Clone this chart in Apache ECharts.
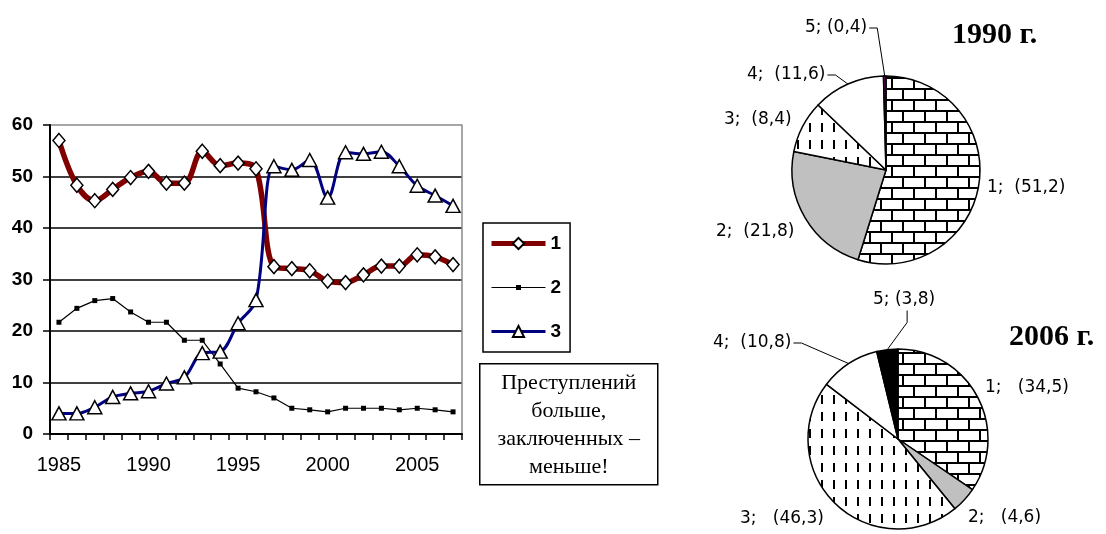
<!DOCTYPE html>
<html>
<head>
<meta charset="utf-8">
<script src="https://cdn.jsdelivr.net/npm/echarts@6/dist/echarts.min.js"></script>
<style>
  html, body { margin: 0; padding: 0; background: #fff; }
  #chart { width: 1106px; height: 534px; }
</style>
</head>
<body>
<div id="chart"></div>
<script>
// ---- data ----
const years = ['1985','1986','1987','1988','1989','1990','1991','1992','1993','1994','1995','1996',
               '1997','1998','1999','2000','2001','2002','2003','2004','2005','2006','2007'];
const series1 = [57.0, 48.3, 45.3, 47.5, 49.8, 51.0, 48.7, 48.7, 54.9, 52.1, 52.6, 51.5,
                 32.5, 32.1, 31.7, 29.7, 29.4, 30.9, 32.6, 32.6, 34.8, 34.4, 32.9];
const series2 = [21.7, 24.4, 25.9, 26.3, 23.7, 21.7, 21.7, 18.2, 18.2, 13.6, 8.9, 8.2,
                 7.0, 5.0, 4.7, 4.3, 5.0, 5.0, 5.0, 4.7, 5.0, 4.7, 4.3];
const series3 = [4.0, 4.0, 5.2, 7.2, 7.9, 8.3, 9.8, 11.0, 15.7, 16.0, 21.5, 26.0,
                 52.0, 51.3, 53.2, 45.9, 54.7, 54.4, 54.8, 52.0, 48.2, 46.3, 44.3];
const seriesNames = ['1', '2', '3'];
const yTicks = [0, 10, 20, 30, 40, 50, 60];

const pieNames = ['1', '2', '3', '4', '5'];
const pie1990 = [51.2, 21.8, 8.4, 11.6, 0.4];
const pie2006 = [34.5, 4.6, 46.3, 10.8, 3.8];
const pieTitles = ['1990 г.', '2006 г.'];
const boxLines = ['Преступлений', 'больше,', 'заключенных –', 'меньше!'];

// ---- patterns ----
function brickPattern() {
  const c = document.createElement('canvas');
  c.width = 22; c.height = 22;
  const g = c.getContext('2d');
  g.fillStyle = '#fff'; g.fillRect(0, 0, 22, 22);
  g.fillStyle = '#000';
  g.fillRect(0, 0, 22, 2);
  g.fillRect(0, 11, 22, 2);
  g.fillRect(0, 0, 2, 11);
  g.fillRect(11, 11, 2, 11);
  return c;
}
function dashPattern() {
  const c = document.createElement('canvas');
  c.width = 12; c.height = 17;
  const g = c.getContext('2d');
  g.fillStyle = '#fff'; g.fillRect(0, 0, 12, 17);
  g.fillStyle = '#000';
  g.fillRect(5, 4, 2, 9);
  return c;
}
const brick = { image: brickPattern(), repeat: 'repeat' };
const dashes = { image: dashPattern(), repeat: 'repeat' };
const pieFills1990 = [brick, '#c0c0c0', dashes, '#ffffff', '#6a0a6a'];
const pieFills2006 = [brick, '#c0c0c0', dashes, '#ffffff', '#000000'];

function fmtNum(v) { return String(v.toFixed(1)).replace('.', ','); }

function pieData(values, fills, guided) {
  return values.map((v, i) => ({
    name: pieNames[i],
    value: v,
    itemStyle: { color: fills[i] },
    labelLine: { show: guided.indexOf(i) >= 0 }
  }));
}

function makeLayout(pos, guides) {
  return function (p) {
    const i = p.dataIndex;
    const x = pos[i][0], y = pos[i][1];
    const out = { x: x, y: y, align: 'left', verticalAlign: 'middle' };
    const g = guides[i];
    if (g && p.labelLinePoints) {
      const edge = p.labelLinePoints[0];
      const w = p.labelRect.width, h = p.labelRect.height;
      let end, elbow;
      if (g === 'right') {
        end = [x + w + 2, y];
        elbow = [x + w + 10, y];
      } else {
        end = [x + w / 2 + 3, y + h / 2 + 2];
        elbow = [x + w / 2 + 3, y + h / 2 + 14];
      }
      out.labelLinePoints = [edge, elbow, end];
    }
    return out;
  };
}

const labelPos1990 = [[987, 188], [716, 232], [724, 120], [747, 75], [805, 28]];
const labelPos2006 = [[985, 388], [968, 518], [740, 519], [713, 343], [873, 300]];
const gap1990 = ['  ', '  ', '  ', '  ', ' '];
const gap2006 = ['   ', '   ', '   ', '  ', ' '];

function pieLabel(gaps) {
  return function (p) { return p.name + ';' + gaps[p.dataIndex] + '(' + fmtNum(p.value) + ')'; };
}

const pieLabelStyle = {
  show: true, position: 'outside', color: '#000',
  fontFamily: 'DejaVu Sans', fontSize: 17
};

const chart = echarts.init(document.getElementById('chart'), null, { renderer: 'canvas' });
chart.setOption({
  animation: false,
  backgroundColor: '#fff',
  title: [
    { text: pieTitles[0], left: 952, top: 20, padding: 0,
      textStyle: { fontFamily: 'Liberation Serif', fontWeight: 'bold', fontSize: 30, color: '#000' } },
    { text: pieTitles[1], left: 1009, top: 322, padding: 0,
      textStyle: { fontFamily: 'Liberation Serif', fontWeight: 'bold', fontSize: 30, color: '#000' } }
  ],
  legend: {
    orient: 'vertical', left: 483, top: 223,
    padding: [11, 9, 11, 6], itemGap: 25, itemWidth: 54, itemHeight: 14,
    borderColor: '#000', borderWidth: 1.5, selectedMode: false,
    textStyle: { fontFamily: 'Liberation Sans', fontWeight: 'bold', fontSize: 19, color: '#000' },
    data: [
      { name: seriesNames[0], lineStyle: { width: 5, color: '#800000' } },
      { name: seriesNames[1], icon: 'path://M0,0h0.01v0.01h-0.01z M0,6.4h54v1.2h-54z M24.5,4.5h5v5h-5z M54,14h0.01v-0.01h-0.01z' },
      { name: seriesNames[2], lineStyle: { width: 3, color: '#000080' } }
    ]
  },
  grid: { left: 50, top: 125, right: 644, bottom: 100, containLabel: false },
  xAxis: {
    type: 'category', data: years, boundaryGap: true,
    axisLine: { lineStyle: { color: '#000', width: 2 } },
    axisTick: { show: true, interval: 0, length: 6, lineStyle: { color: '#000', width: 1.5 } },
    axisLabel: { interval: 4, margin: 21, fontFamily: 'Liberation Sans', fontSize: 20, color: '#000' },
    splitLine: { show: false }
  },
  yAxis: [
    {
      type: 'value', min: yTicks[0], max: yTicks[yTicks.length - 1], interval: 10,
      axisLine: { show: true, lineStyle: { color: '#000', width: 2 } },
      axisTick: { show: true, length: 7, lineStyle: { color: '#000', width: 1.5 } },
      axisLabel: { margin: 17, fontFamily: 'Liberation Sans', fontWeight: 'bold', fontSize: 19, color: '#000' },
      splitLine: { show: true, lineStyle: { color: ['#000', '#000', '#000', '#000', '#000', '#000', '#8a8a8a'], width: 1.5 } }
    },
    {
      type: 'value', min: yTicks[0], max: yTicks[yTicks.length - 1], interval: 10, position: 'right',
      axisLine: { show: true, lineStyle: { color: '#8a8a8a', width: 1.5 } },
      axisTick: { show: false }, axisLabel: { show: false }, splitLine: { show: false }
    }
  ],
  series: [
    {
      name: seriesNames[0], type: 'line', data: series1, smooth: 0.35, showAllSymbol: true,
      symbol: 'diamond', symbolSize: [12, 14],
      lineStyle: { color: '#800000', width: 5.5 },
      itemStyle: { color: '#fff', borderColor: '#000', borderWidth: 1.5 }
    },
    {
      name: seriesNames[1], type: 'line', data: series2, smooth: false, showAllSymbol: true,
      symbol: 'rect', symbolSize: 5,
      lineStyle: { color: '#000', width: 1.2 },
      itemStyle: { color: '#000' }
    },
    {
      name: seriesNames[2], type: 'line', data: series3, smooth: 0.35, showAllSymbol: true,
      symbol: 'triangle', symbolSize: [14, 13],
      lineStyle: { color: '#000080', width: 3 },
      itemStyle: { color: '#fff', borderColor: '#000', borderWidth: 1.5 }
    },
    {
      type: 'pie', center: [886, 170], radius: 94, startAngle: 90, clockwise: true,
      avoidLabelOverlap: false, legendHoverLink: false,
      itemStyle: { borderColor: '#000', borderWidth: 1.5 },
      label: Object.assign({ formatter: pieLabel(gap1990) }, pieLabelStyle),
      labelLine: { show: true, length: 10, length2: 10, lineStyle: { color: '#000', width: 1 } },
      labelLayout: makeLayout(labelPos1990, [null, null, null, 'right', 'right']),
      data: pieData(pie1990, pieFills1990, [3, 4])
    },
    {
      type: 'pie', center: [898, 439], radius: 90, startAngle: 90, clockwise: true,
      avoidLabelOverlap: false, legendHoverLink: false,
      itemStyle: { borderColor: '#000', borderWidth: 1.5 },
      label: Object.assign({ formatter: pieLabel(gap2006) }, pieLabelStyle),
      labelLine: { show: true, length: 10, length2: 10, lineStyle: { color: '#000', width: 1 } },
      labelLayout: makeLayout(labelPos2006, [null, null, null, 'right', 'below']),
      data: pieData(pie2006, pieFills2006, [3, 4])
    }
  ],
  graphic: [{
    type: 'group', left: 479, top: 363,
    children: [
      { type: 'rect', shape: { x: 0, y: 0, width: 178, height: 121 },
        style: { fill: '#fff', stroke: '#000', lineWidth: 1.5 } },
      { type: 'text', x: 89, y: 61,
        style: { text: boxLines.join('\n'), fontFamily: 'Liberation Serif', fontSize: 22,
                 lineHeight: 28, align: 'center', verticalAlign: 'middle', fill: '#000' } }
    ]
  }]
});
</script>
</body>
</html>
